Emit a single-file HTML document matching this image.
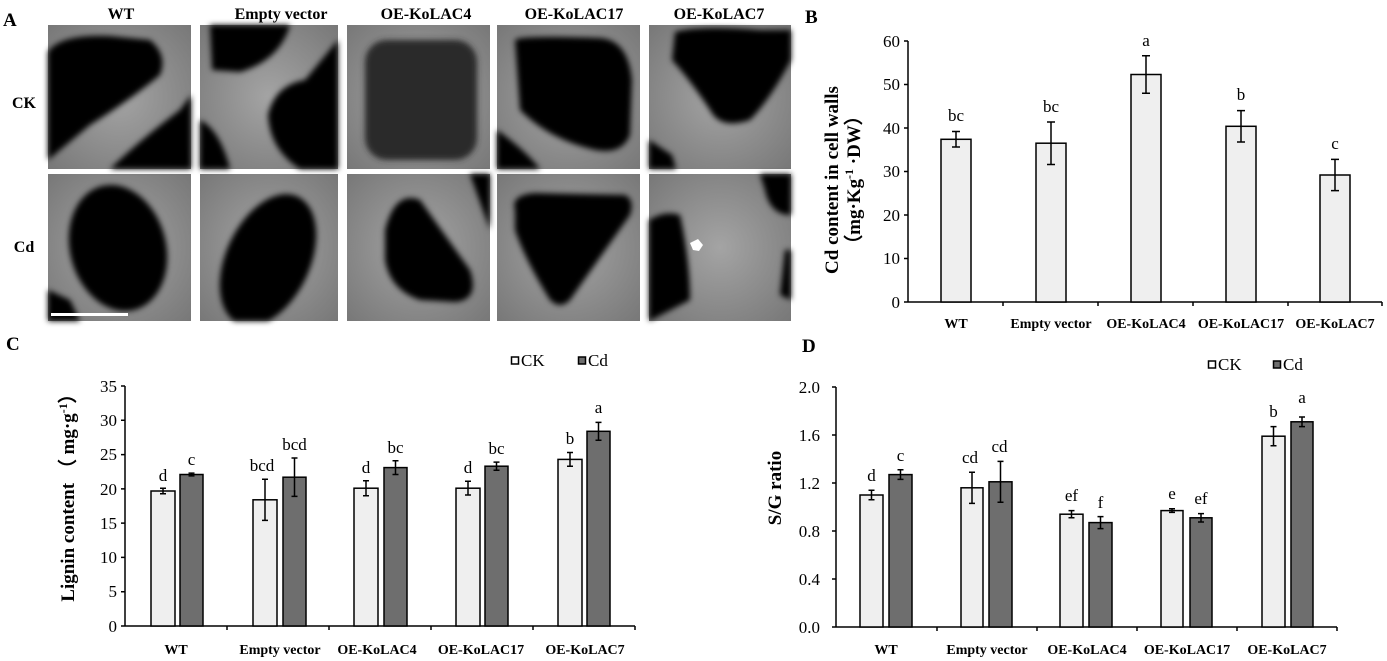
<!DOCTYPE html>
<html><head><meta charset="utf-8"><style>
html,body{margin:0;padding:0;background:#fff;}
svg{display:block;font-family:"Liberation Serif",serif;}
</style></head><body>
<svg width="1387" height="661" viewBox="0 0 1387 661" xmlns="http://www.w3.org/2000/svg">
<defs>
<filter id="bl" x="-20%" y="-20%" width="140%" height="140%"><feGaussianBlur stdDeviation="3"/></filter>
<radialGradient id="wall" cx="50%" cy="50%" r="70%"><stop offset="0" stop-color="#a4a4a4"/><stop offset="1" stop-color="#787878"/></radialGradient>
<clipPath id="c1"><rect x="48" y="25" width="143" height="144"/></clipPath>
<clipPath id="c2"><rect x="200" y="25" width="138" height="144"/></clipPath>
<clipPath id="c3"><rect x="347" y="25" width="143" height="144"/></clipPath>
<clipPath id="c4"><rect x="497" y="25" width="143" height="144"/></clipPath>
<clipPath id="c5"><rect x="649" y="25" width="142" height="144"/></clipPath>
<clipPath id="d1"><rect x="48" y="174" width="143" height="147"/></clipPath>
<clipPath id="d2"><rect x="200" y="174" width="138" height="147"/></clipPath>
<clipPath id="d3"><rect x="347" y="174" width="143" height="147"/></clipPath>
<clipPath id="d4"><rect x="497" y="174" width="143" height="147"/></clipPath>
<clipPath id="d5"><rect x="649" y="174" width="142" height="147"/></clipPath>
</defs>

<!-- Panel A -->
<text x="3" y="26" font-size="19" font-weight="bold">A</text>
<g font-size="16" font-weight="bold" text-anchor="middle">
<text x="121" y="19">WT</text><text x="281" y="19">Empty vector</text><text x="426" y="19">OE-KoLAC4</text><text x="574" y="19">OE-KoLAC17</text><text x="719" y="19">OE-KoLAC7</text>
<text x="24" y="108">CK</text><text x="24" y="252">Cd</text>
</g>
<g fill="url(#wall)">
<rect x="48" y="25" width="143" height="144"/><rect x="200" y="25" width="138" height="144"/><rect x="347" y="25" width="143" height="144"/><rect x="497" y="25" width="143" height="144"/><rect x="649" y="25" width="142" height="144"/>
<rect x="48" y="174" width="143" height="147"/><rect x="200" y="174" width="138" height="147"/><rect x="347" y="174" width="143" height="147"/><rect x="497" y="174" width="143" height="147"/><rect x="649" y="174" width="142" height="147"/>
</g>
<g fill="#050505" filter="url(#bl)">
<g clip-path="url(#c1)"><path d="M48,52 Q60,34 110,36 L150,40 Q168,55 160,75 Q130,100 90,125 L60,150 L48,160 Z"/><path d="M191,95 L191,169 L110,169 Q140,140 180,110 Z"/></g>
<g clip-path="url(#c2)"><path d="M210,25 L290,25 Q280,60 240,72 L212,70 Z"/><path d="M338,40 L338,169 L300,169 Q270,150 268,115 Q275,85 305,80 Z"/><path d="M200,120 Q220,130 230,169 L200,169 Z"/></g>
<g clip-path="url(#c3)"><rect x="365" y="40" width="112" height="120" rx="22" fill="#2a2a2a"/></g>
<g clip-path="url(#c4)"><path d="M515,40 Q520,35 600,38 Q628,40 632,80 L630,135 Q622,155 595,150 Q550,140 520,110 Z" /><path d="M497,130 Q525,150 540,169 L497,169 Z"/></g>
<g clip-path="url(#c5)"><path d="M675,32 Q700,25 760,30 L791,30 L791,60 Q770,100 750,120 Q720,130 710,110 Q690,80 672,60 Z"/><path d="M649,140 L672,155 L676,169 L649,169 Z"/></g>
<g clip-path="url(#d1)"><ellipse cx="118" cy="248" rx="48" ry="64" transform="rotate(-15 118 248)"/><path d="M48,290 L70,300 L80,321 L48,321 Z"/></g>
<g clip-path="url(#d2)"><ellipse cx="268" cy="260" rx="42" ry="70" transform="rotate(25 268 260)"/></g>
<g clip-path="url(#d3)"><path d="M385,230 Q395,190 420,200 L470,270 Q480,300 455,302 L420,300 Q390,290 385,260 Z"/><path d="M470,174 L490,174 L490,230 Z"/></g>
<g clip-path="url(#d4)"><path d="M515,210 Q510,195 535,193 L625,195 Q635,200 630,215 L570,300 Q560,310 550,300 Q525,260 515,230 Z"/></g>
<g clip-path="url(#d5)"><path d="M649,220 Q665,210 680,215 Q690,260 690,300 L649,321 Z"/><path d="M760,174 L791,174 L791,215 Q770,215 765,190 Z"/><path d="M785,250 L791,250 L791,300 L780,295 Z"/></g>
</g>
<path d="M690,243 l8,-4 l5,6 l-4,6 l-6,-1 Z" fill="#fff"/>
<rect x="51" y="313" width="77" height="3" fill="#fff"/>

<!-- Panel B -->
<text x="805" y="23" font-size="19" font-weight="bold">B</text>
<g transform="translate(847,180) rotate(-90)" text-anchor="middle" font-size="19" font-weight="bold">
<text x="0" y="-9">Cd content in cell walls</text>
<text x="0" y="13">（mg·Kg<tspan font-size="12" dy="-7">-1</tspan><tspan dy="7"> ·DW）</tspan></text>
</g>
<g stroke="#000" stroke-width="1.5" fill="none">
<line x1="908" y1="41" x2="908" y2="302"/><line x1="908" y1="302" x2="1382" y2="302"/>
<path d="M904,41H908M904,84.5H908M904,128H908M904,171.5H908M904,215H908M904,258.5H908M904,302H908"/>
<path d="M1003,302V306M1098,302V306M1193,302V306M1288,302V306M1382,302V306"/>
</g>
<g font-size="17" text-anchor="end"><text x="900" y="47">60</text><text x="900" y="90">50</text><text x="900" y="134">40</text><text x="900" y="177">30</text><text x="900" y="221">20</text><text x="900" y="264">10</text><text x="900" y="308">0</text></g>
<g fill="#efefef" stroke="#000" stroke-width="1.5">
<rect x="941" y="139.3" width="30" height="162.7"/><rect x="1036" y="143.2" width="30" height="158.8"/><rect x="1131" y="74.5" width="30" height="227.5"/><rect x="1226" y="126.3" width="30" height="175.7"/><rect x="1320" y="175" width="30" height="127"/>
</g>
<g stroke="#000" stroke-width="1.5">
<path d="M956,131.5V147M952,131.5H960M952,147H960"/>
<path d="M1051,122V164.5M1047,122H1055M1047,164.5H1055"/>
<path d="M1146,55.8V93.2M1142,55.8H1150M1142,93.2H1150"/>
<path d="M1241,110.6V142M1237,110.6H1245M1237,142H1245"/>
<path d="M1335,159.4V190.6M1331,159.4H1339M1331,190.6H1339"/>
</g>
<g font-size="17" text-anchor="middle"><text x="956" y="121">bc</text><text x="1051" y="112">bc</text><text x="1146" y="46">a</text><text x="1241" y="100">b</text><text x="1335" y="149">c</text></g>
<g font-size="14" font-weight="bold" text-anchor="middle"><text x="956" y="328">WT</text><text x="1051" y="328">Empty vector</text><text x="1146" y="328">OE-KoLAC4</text><text x="1241" y="328">OE-KoLAC17</text><text x="1335" y="328">OE-KoLAC7</text></g>

<!-- Panel C -->
<text x="6" y="350" font-size="19" font-weight="bold">C</text>
<g transform="translate(68,493) rotate(-90)" text-anchor="middle" font-size="19" font-weight="bold"><text x="0" y="6">Lignin content （ mg·g<tspan font-size="12" dy="-7">-1</tspan><tspan dy="7">）</tspan></text></g>
<g stroke="#000" stroke-width="1.5" fill="none">
<line x1="125" y1="386" x2="125" y2="626"/><line x1="125" y1="626" x2="635" y2="626"/>
<path d="M121,386H125M121,420.3H125M121,454.6H125M121,488.9H125M121,523.1H125M121,557.4H125M121,591.7H125M121,626H125"/>
<path d="M227,626V630M329,626V630M431,626V630M533,626V630M635,626V630"/>
</g>
<g font-size="17" text-anchor="end"><text x="117" y="392">35</text><text x="117" y="426">30</text><text x="117" y="460">25</text><text x="117" y="495">20</text><text x="117" y="529">15</text><text x="117" y="563">10</text><text x="117" y="597">5</text><text x="117" y="632">0</text></g>
<g stroke="#000" stroke-width="1.5">
<g fill="#efefef"><rect x="151" y="491" width="24" height="135"/><rect x="253" y="499.8" width="24" height="126.2"/><rect x="354" y="488.2" width="24" height="137.8"/><rect x="456" y="488.2" width="24" height="137.8"/><rect x="558" y="459.4" width="24" height="166.6"/></g>
<g fill="#6e6e6e"><rect x="180" y="474.5" width="23" height="151.5"/><rect x="283" y="477.2" width="23" height="148.8"/><rect x="384" y="467.6" width="23" height="158.4"/><rect x="485" y="466.2" width="23" height="159.8"/><rect x="587" y="431.3" width="23" height="194.7"/></g>
<path d="M163,488.2V493.7M160,488.2H166M160,493.7H166"/>
<path d="M191.5,473.1V475.9M188.5,473.1H194.5M188.5,475.9H194.5"/>
<path d="M265,479.2V520.4M262,479.2H268M262,520.4H268"/>
<path d="M294.5,458V496.4M291.5,458H297.5M291.5,496.4H297.5"/>
<path d="M366,480.7V495.8M363,480.7H369M363,495.8H369"/>
<path d="M395.5,460.7V474.5M392.5,460.7H398.5M392.5,474.5H398.5"/>
<path d="M468,481.3V495M465,481.3H471M465,495H471"/>
<path d="M496.5,462.1V470.3M493.5,462.1H499.5M493.5,470.3H499.5"/>
<path d="M570,452.5V466.2M567,452.5H573M567,466.2H573"/>
<path d="M598.5,422.4V440.2M595.5,422.4H601.5M595.5,440.2H601.5"/>
</g>
<g font-size="17" text-anchor="middle"><text x="163" y="481">d</text><text x="191.5" y="465">c</text><text x="262" y="471">bcd</text><text x="294.5" y="450">bcd</text><text x="366" y="473">d</text><text x="395.5" y="453">bc</text><text x="468" y="473">d</text><text x="496.5" y="454">bc</text><text x="570" y="444">b</text><text x="598.5" y="413">a</text></g>
<g font-size="14" font-weight="bold" text-anchor="middle"><text x="176" y="654">WT</text><text x="280" y="654">Empty vector</text><text x="377" y="654">OE-KoLAC4</text><text x="481" y="654">OE-KoLAC17</text><text x="585" y="654">OE-KoLAC7</text></g>
<rect x="511.5" y="357" width="7" height="7" fill="#fff" stroke="#000" stroke-width="1.5"/><text x="521" y="366" font-size="17">CK</text>
<rect x="578.5" y="357" width="7" height="7" fill="#6e6e6e" stroke="#000" stroke-width="1.5"/><text x="588" y="366" font-size="17">Cd</text>

<!-- Panel D -->
<text x="802" y="352" font-size="19" font-weight="bold">D</text>
<g transform="translate(774,488) rotate(-90)" text-anchor="middle" font-size="19" font-weight="bold"><text x="0" y="7">S/G ratio</text></g>
<g stroke="#000" stroke-width="1.5" fill="none">
<line x1="836" y1="387" x2="836" y2="627"/><line x1="836" y1="627" x2="1337" y2="627"/>
<path d="M832,387H836M832,435H836M832,483H836M832,531H836M832,579H836M832,627H836"/>
<path d="M937,627V631M1037,627V631M1137,627V631M1237,627V631M1337,627V631"/>
</g>
<g font-size="17" text-anchor="end"><text x="820" y="393">2.0</text><text x="820" y="441">1.6</text><text x="820" y="489">1.2</text><text x="820" y="537">0.8</text><text x="820" y="585">0.4</text><text x="820" y="633">0.0</text></g>
<g stroke="#000" stroke-width="1.5">
<g fill="#efefef"><rect x="860" y="495" width="23" height="132"/><rect x="961" y="487.8" width="22" height="139.2"/><rect x="1060" y="514.2" width="23" height="112.8"/><rect x="1161" y="510.6" width="22" height="116.4"/><rect x="1262" y="436.2" width="23" height="190.8"/></g>
<g fill="#6e6e6e"><rect x="889" y="474.6" width="23" height="152.4"/><rect x="989" y="481.8" width="23" height="145.2"/><rect x="1089" y="522.6" width="23" height="104.4"/><rect x="1190" y="517.8" width="22" height="109.2"/><rect x="1291" y="421.8" width="22" height="205.2"/></g>
<path d="M871.5,490.2V499.8M868.5,490.2H874.5M868.5,499.8H874.5"/>
<path d="M900.5,469.8V479.4M897.5,469.8H903.5M897.5,479.4H903.5"/>
<path d="M972,472.2V503.4M969,472.2H975M969,503.4H975"/>
<path d="M1000.5,461.4V502.2M997.5,461.4H1003.5M997.5,502.2H1003.5"/>
<path d="M1071.5,510.6V517.8M1068.5,510.6H1074.5M1068.5,517.8H1074.5"/>
<path d="M1100.5,516.6V528.6M1097.5,516.6H1103.5M1097.5,528.6H1103.5"/>
<path d="M1172,508.8V512.4M1169,508.8H1175M1169,512.4H1175"/>
<path d="M1201,513.6V522M1198,513.6H1204M1198,522H1204"/>
<path d="M1273.5,426.6V445.8M1270.5,426.6H1276.5M1270.5,445.8H1276.5"/>
<path d="M1302,417V426.6M1299,417H1305M1299,426.6H1305"/>
</g>
<g font-size="17" text-anchor="middle"><text x="871.5" y="481">d</text><text x="900.5" y="461">c</text><text x="970" y="463">cd</text><text x="999.5" y="452">cd</text><text x="1071.5" y="501">ef</text><text x="1100.5" y="508">f</text><text x="1172" y="499">e</text><text x="1201" y="504">ef</text><text x="1273.5" y="417">b</text><text x="1302" y="403">a</text></g>
<g font-size="14" font-weight="bold" text-anchor="middle"><text x="886" y="654">WT</text><text x="987" y="654">Empty vector</text><text x="1087" y="654">OE-KoLAC4</text><text x="1187" y="654">OE-KoLAC17</text><text x="1287" y="654">OE-KoLAC7</text></g>
<rect x="1208.5" y="361" width="7" height="7" fill="#fff" stroke="#000" stroke-width="1.5"/><text x="1218" y="370" font-size="17">CK</text>
<rect x="1273.5" y="361" width="7" height="7" fill="#6e6e6e" stroke="#000" stroke-width="1.5"/><text x="1283" y="370" font-size="17">Cd</text>
</svg>
</body></html>
